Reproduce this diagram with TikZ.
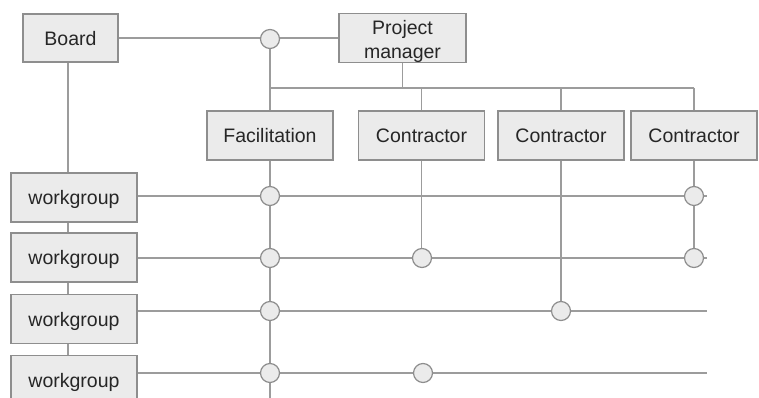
\documentclass[tikz,border=0pt]{standalone}
\usepackage{fontspec}
\setmainfont{Liberation Sans}
\definecolor{boxfill}{HTML}{EBEBEB}
\definecolor{boxline}{HTML}{8E8E8E}
\definecolor{wire}{HTML}{9C9C9C}
\definecolor{txt}{HTML}{262626}
\begin{document}
\begin{tikzpicture}[x=1pt,y=-1pt,
  box/.style={draw=boxline,fill=boxfill,line width=1.3pt,minimum width=126pt,minimum height=49pt,inner sep=0pt,font=\fontsize{19.5}{24}\selectfont,text=txt,align=center,text depth=0pt},
  joint/.style={circle,draw=boxline,fill=boxfill,line width=1.2pt,minimum size=19pt,inner sep=0pt},
  wire/.style={draw=wire,line width=1.4pt}]
\useasboundingbox (0,0) rectangle (759,398);
% boxes
\node[box,minimum width=95pt,minimum height=48pt] (board) at (70.5,38) {Board};
\node[box,minimum width=127pt,minimum height=48pt,text depth=] (pm) at (402.5,38) {\rule{0pt}{21pt}Project\\[0pt]manager};
\node[box] (fac) at (270,135.5) {Facilitation};
\node[box] (con1) at (421.5,135.5) {Contractor};
\node[box] (con2) at (561,135.5) {Contractor};
\node[box] (con3) at (694,135.5) {Contractor};
\node[box] (wg1) at (74,197.5) {workgroup};
\node[box] (wg2) at (74,257.5) {workgroup};
\node[box] (wg3) at (74,319) {workgroup};
\node[box] (wg4) at (74,380) {workgroup};
% coordinates
\coordinate (top) at (270,39);
\coordinate (bl) at (270,88);
\coordinate (br) at (694,88);
\coordinate (e1) at (707,196);
\coordinate (e2) at (707,258);
\coordinate (e3) at (707,311);
\coordinate (e4) at (707,373);
\coordinate (vend) at (270,400);
% wires
\draw[wire] (board.east) -- (pm.west);
\draw[wire] (top) -- (fac.north);
\draw[wire] (bl) -- (br);
\draw[wire] (pm.south) -- (pm.south |- bl);
\draw[wire] (con1.north |- bl) -- (con1.north);
\draw[wire] (con2.north |- bl) -- (con2.north);
\draw[wire] (br) -- (con3.north);
\draw[wire] (board.south -| 68,0) -- (wg1.north -| 68,0);
\draw[wire] (wg1.south -| 68,0) -- (wg2.north -| 68,0);
\draw[wire] (wg2.south -| 68,0) -- (wg3.north -| 68,0);
\draw[wire] (wg3.south -| 68,0) -- (wg4.north -| 68,0);
\draw[wire] (wg1.east |- e1) -- (e1);
\draw[wire] (wg2.east |- e2) -- (e2);
\draw[wire] (wg3.east |- e3) -- (e3);
\draw[wire] (wg4.east |- e4) -- (e4);
\draw[wire] (fac.south) -- (vend);
\draw[wire] (con1.south) -- (con1.south |- e2);
\draw[wire] (con2.south) -- (con2.south |- e3);
\draw[wire] (con3.south) -- (con3.south |- e2);
% joints
\node[joint] (jtop) at (top) {};
\node[joint] (j11) at (270,196) {};
\node[joint] (j14) at (694,196) {};
\node[joint] (j21) at (270,258) {};
\node[joint] (j22) at (422,258) {};
\node[joint] (j24) at (694,258) {};
\node[joint] (j31) at (270,311) {};
\node[joint] (j33) at (561,311) {};
\node[joint] (j41) at (270,373) {};
\node[joint] (j42) at (423,373) {};
\end{tikzpicture}
\end{document}
